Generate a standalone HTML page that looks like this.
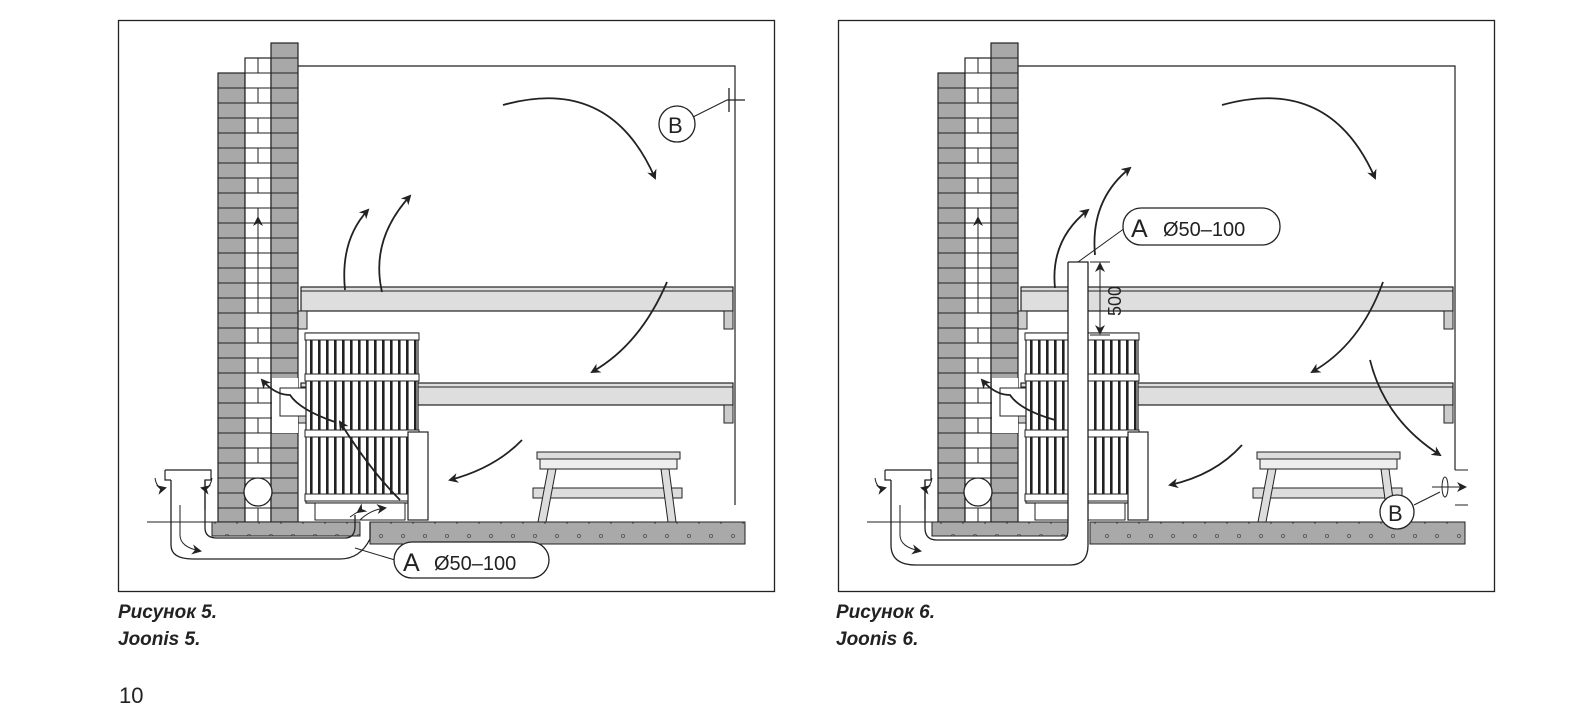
<!DOCTYPE html>
<html><head><meta charset="utf-8">
<style>
html,body{margin:0;padding:0;background:#fff;}
svg{display:block;}
.cap{font-family:"Liberation Sans",sans-serif;font-weight:bold;font-style:italic;font-size:19px;fill:#222;}
</style></head>
<body>
<svg id="s" width="1569" height="705" viewBox="0 0 1569 705" xmlns="http://www.w3.org/2000/svg">
<defs>
<marker id="ah" markerWidth="10" markerHeight="10" refX="8" refY="5" orient="auto" markerUnits="userSpaceOnUse">
<path d="M0,0 L10,5 L0,10 L3,5 Z" fill="#222"/></marker>
<pattern id="conc" width="22" height="22" patternUnits="userSpaceOnUse">
<rect width="22" height="22" fill="#a9a9a9"/><circle cx="7" cy="8" r="1.6" fill="none" stroke="#555" stroke-width="0.8"/><circle cx="17" cy="17" r="1" fill="#666"/>
</pattern>
</defs>
<g id="f1"></g>
<g id="f2"></g>
<text class="cap" x="118" y="618">Рисунок 5.</text>
<text class="cap" x="118" y="645">Joonis 5.</text>
<text class="cap" x="836" y="618">Рисунок 6.</text>
<text class="cap" x="836" y="645">Joonis 6.</text>
<text x="119" y="703" font-family="Liberation Sans,sans-serif" font-size="22" fill="#222">10</text>
</svg>
<script>
function common(dx){
 var h='';
 var X=function(x){return x+dx;};
 h+='<rect x="'+X(118.5)+'" y="20.5" width="656" height="571" fill="none" stroke="#222" stroke-width="1.3"/>';
 h+='<polyline points="'+X(298)+',66 '+X(735)+',66 '+X(735)+',505" fill="none" stroke="#222" stroke-width="1.2"/>';
 [[287,311],[383,405]].forEach(function(b){
  h+='<rect x="'+X(301)+'" y="'+b[0]+'" width="432" height="'+(b[1]-b[0])+'" fill="#dedede" stroke="#222" stroke-width="1.2"/>';
  h+='<line x1="'+X(301)+'" y1="'+(b[0]+4)+'" x2="'+X(733)+'" y2="'+(b[0]+4)+'" stroke="#222" stroke-width="1"/>';
  h+='<rect x="'+X(724)+'" y="'+b[1]+'" width="9" height="18" fill="#ccc" stroke="#222"/>';
  h+='<rect x="'+X(298)+'" y="'+b[1]+'" width="9" height="18" fill="#ccc" stroke="#222"/>';
 });
 var cols=[[218,73,1],[245,58,0],[271,43,1]];
 cols.forEach(function(c){
  h+='<rect x="'+X(c[0])+'" y="'+c[1]+'" width="'+(c[2]?27:26)+'" height="'+(522-c[1])+'" fill="'+(c[2]?'#a8a8a8':'#fff')+'" stroke="#222" stroke-width="1.2"/>';
  for(var y=c[1]+15;y<522;y+=15){
   h+='<line x1="'+X(c[0])+'" y1="'+y+'" x2="'+X(c[0]+(c[2]?27:26))+'" y2="'+y+'" stroke="#222" stroke-width="1"/>';
  }
  if(!c[2]){for(var y=c[1],k=0;y<522;y+=15,k++){if(k%2==0)h+='<line x1="'+X(258)+'" y1="'+y+'" x2="'+X(258)+'" y2="'+(y+15)+'" stroke="#222"/>';}}
 });
 h+='<rect x="'+X(272)+'" y="378" width="26" height="55" fill="#fff"/>';
 h+='<rect x="'+X(280)+'" y="388" width="30" height="28" fill="#fff" stroke="#222"/>';
 h+='<circle cx="'+X(258)+'" cy="492" r="14" fill="#fff" stroke="#222" stroke-width="1.3"/>';
 h+='<line x1="'+X(258)+'" y1="310" x2="'+X(258)+'" y2="218" stroke="#222" marker-end="url(#ah)"/>';
 h+='<rect x="'+X(306)+'" y="333" width="112" height="170" fill="#fff" stroke="#222" stroke-width="1.2"/>';
 for(var x=310;x<416;x+=8){h+='<rect x="'+X(x)+'" y="337" width="2.6" height="162" fill="#222"/>';}
 [333,374,430,494].forEach(function(y){h+='<rect x="'+X(305)+'" y="'+y+'" width="114" height="7" fill="#fff" stroke="#222"/>';});
 h+='<rect x="'+X(315)+'" y="503" width="90" height="17" fill="#fff" stroke="#222"/>';
 h+='<rect x="'+X(408)+'" y="432" width="20" height="88" fill="#fff" stroke="#222" stroke-width="1.2"/>';
 h+='<rect x="'+X(537)+'" y="452" width="143" height="7" fill="#ddd" stroke="#222"/>';
 h+='<rect x="'+X(540)+'" y="459" width="137" height="10" fill="#eee" stroke="#222"/>';
 h+='<rect x="'+X(533)+'" y="488" width="149" height="10" fill="#ddd" stroke="#222"/>';
 h+='<polygon points="'+X(548)+',469 '+X(556)+',469 '+X(546)+',522 '+X(538)+',522" fill="#ddd" stroke="#222"/>';
 h+='<polygon points="'+X(661)+',469 '+X(669)+',469 '+X(676)+',522 '+X(668)+',522" fill="#ddd" stroke="#222"/>';
 h+='<line x1="'+X(147)+'" y1="522" x2="'+X(212)+'" y2="522" stroke="#222"/>';
 h+='<path d="M'+X(165)+',470 h46 v10 h-6 v30" fill="none" stroke="#222" stroke-width="1.2"/>';
 h+='<path d="M'+X(165)+',470 v10 h6" fill="none" stroke="#222" stroke-width="1.2"/>';
 h+='<path d="M'+X(155)+',478 q2,12 10,10" fill="none" stroke="#222" marker-end="url(#ah)"/>';
 h+='<path d="M'+X(212)+',478 q-2,12 -10,10" fill="none" stroke="#222" marker-end="url(#ah)"/>';
 h+='<path d="M'+X(180)+',505 v30 q0,12 20,16" fill="none" stroke="#222" marker-end="url(#ah)"/>';
 return h;
}
var a=document.getElementById('f1'), b=document.getElementById('f2');
var arr=function(d){return '<path d="'+d+'" fill="none" stroke="#222" stroke-width="1.8" marker-end="url(#ah)"/>';};
var h1=common(0);
h1+='<rect x="212" y="522" width="148" height="14" fill="url(#conc)" stroke="#222"/>';
h1+='<rect x="370" y="522" width="375" height="22" fill="url(#conc)" stroke="#222"/>';
h1+='<path d="M171,480 V545 q0,14 22,14 H340 q20,0 30,-20 V522" fill="none" stroke="#222" stroke-width="1.3"/>';
h1+='<path d="M205,480 V528 q0,10 12,10 H345 q10,0 10,-12 V515" fill="none" stroke="#222" stroke-width="1.3"/>';
h1+='<path d="M350,517 q15,-10 8,-5" fill="none" stroke="#222" marker-end="url(#ah)"/>';
h1+='<path d="M360,520 q10,-10 25,-12" fill="none" stroke="#222" marker-end="url(#ah)"/>';
h1+='<line x1="355" y1="548" x2="395" y2="560" stroke="#222"/>';
h1+='<rect x="394" y="542" width="155" height="36" rx="18" fill="#fff" stroke="#222" stroke-width="1.3"/>';
h1+='<text x="403" y="571" font-family="Liberation Sans,sans-serif" font-size="25" fill="#222">A</text><text x="434" y="570" font-family="Liberation Sans,sans-serif" font-size="20" fill="#222">Ø50–100</text>';
h1+='<line x1="727" y1="100" x2="745" y2="100" stroke="#222" stroke-width="1.3"/><line x1="729" y1="88" x2="729" y2="112" stroke="#222" stroke-width="1.3"/>';
h1+='<line x1="693" y1="117" x2="727" y2="100" stroke="#222"/>';
h1+='<circle cx="677" cy="124" r="18" fill="#fff" stroke="#222" stroke-width="1.3"/><text x="668" y="133" font-family="Liberation Sans,sans-serif" font-size="22" fill="#222">B</text>';
h1+=arr('M503,105 Q610,75 655,178');
h1+=arr('M667,282 Q640,345 592,372');
h1+=arr('M522,440 Q495,468 450,480');
h1+=arr('M345,290 Q340,240 368,210');
h1+=arr('M382,292 Q370,240 410,196');
h1+=arr('M400,500 Q370,470 340,422');
h1+=arr('M335,422 Q300,410 290,395 Q275,395 262,380');
a.innerHTML=h1;
var h2=common(720);
h2+='<rect x="932" y="522" width="148" height="14" fill="url(#conc)" stroke="#222"/>';
h2+='<rect x="1090" y="522" width="375" height="22" fill="url(#conc)" stroke="#222"/>';
h2+='<rect x="1068" y="262" width="20" height="290" fill="#fff" stroke="none"/>';
h2+='<path d="M891,480 V545 q0,20 25,20 H1070 q18,0 18,-20 V262 H1068" fill="none" stroke="#222" stroke-width="1.3"/>';
h2+='<path d="M925,480 V528 q0,12 12,12 H1060 q8,0 8,-10 V262" fill="none" stroke="#222" stroke-width="1.3"/>';
h2+='<line x1="1078" y1="262" x2="1125" y2="228" stroke="#222"/>';
h2+='<rect x="1123" y="208" width="157" height="37" rx="18" fill="#fff" stroke="#222" stroke-width="1.3"/>';
h2+='<text x="1131" y="237" font-family="Liberation Sans,sans-serif" font-size="25" fill="#222">A</text><text x="1163" y="236" font-family="Liberation Sans,sans-serif" font-size="20" fill="#222">Ø50–100</text>';
h2+='<line x1="1100" y1="264" x2="1100" y2="333" stroke="#222" marker-end="url(#ah)"/><line x1="1100" y1="333" x2="1100" y2="264" stroke="#222" marker-end="url(#ah)"/>';
h2+='<line x1="1090" y1="262" x2="1110" y2="262" stroke="#222"/><line x1="1090" y1="335" x2="1110" y2="335" stroke="#222"/>';
h2+='<text transform="translate(1121,316) rotate(-90)" font-family="Liberation Sans,sans-serif" font-size="18" fill="#222">500</text>';
h2+='<rect x="1450" y="470" width="20" height="35" fill="#fff"/>';
h2+='<line x1="1455" y1="470" x2="1468" y2="470" stroke="#222"/><line x1="1455" y1="505" x2="1468" y2="505" stroke="#222"/>';
h2+='<line x1="1432" y1="487" x2="1465" y2="487" stroke="#222" marker-end="url(#ah)"/>';
h2+='<ellipse cx="1445" cy="487" rx="3" ry="10" fill="none" stroke="#222"/>';
h2+='<line x1="1414" y1="505" x2="1440" y2="492" stroke="#222"/>';
h2+='<circle cx="1397" cy="512" r="17" fill="#fff" stroke="#222" stroke-width="1.3"/><text x="1388" y="521" font-family="Liberation Sans,sans-serif" font-size="22" fill="#222">B</text>';
h2+=arr('M1222,105 Q1330,75 1375,178');
h2+=arr('M1383,282 Q1360,345 1312,372');
h2+=arr('M1370,360 Q1385,420 1440,455');
h2+=arr('M1242,445 Q1215,475 1170,485');
h2+=arr('M1055,288 Q1050,240 1088,210');
h2+=arr('M1095,255 Q1090,200 1130,168');
h2+=arr('M1055,420 Q1020,410 1010,395 Q995,395 982,380');
b.innerHTML=h2;
</script>
</body></html>
